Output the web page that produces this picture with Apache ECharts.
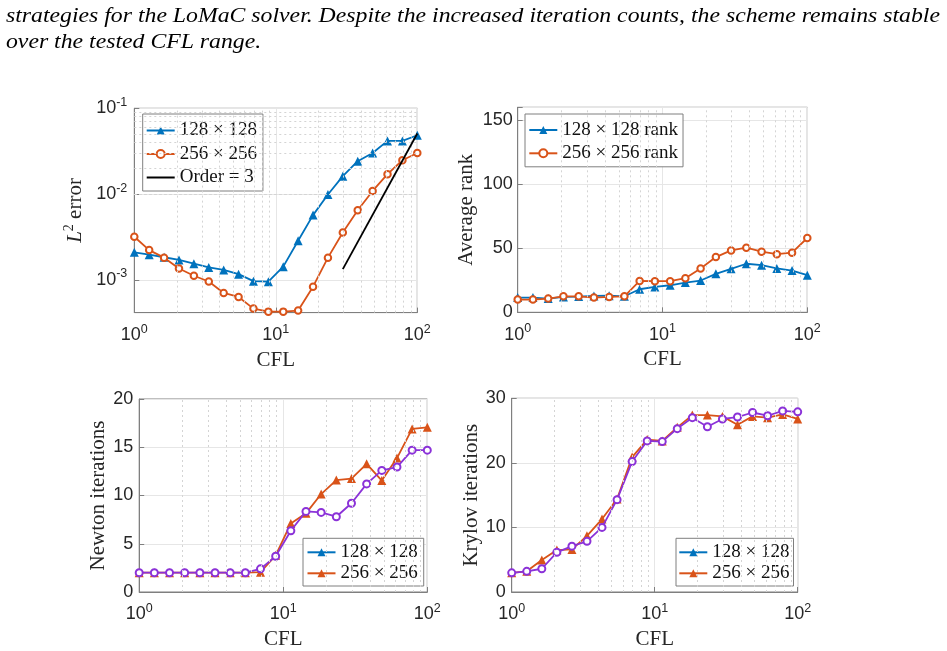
<!DOCTYPE html>
<html><head><meta charset="utf-8">
<script src="https://cdn.jsdelivr.net/npm/echarts@6/dist/echarts.min.js"></script>
<style>html,body{margin:0;padding:0;background:#fff}#c{width:947px;height:651px}</style>
</head><body><div id="c"></div><script>
// ---------------- data ----------------
const cfl = [1, 1.274, 1.624, 2.069, 2.637, 3.360, 4.281, 5.456, 6.952, 8.859, 11.29, 14.38, 18.33, 23.36, 29.76, 37.93, 48.33, 61.58, 78.48, 100];

const err128 = [2.1e-3, 1.97e-3, 1.84e-3, 1.71e-3, 1.55e-3, 1.40e-3, 1.31e-3, 1.17e-3, 9.7e-4, 9.55e-4, 1.43e-3, 2.86e-3, 5.7e-3, 9.9e-3, 1.62e-2, 2.42e-2, 3.02e-2, 4.17e-2, 4.17e-2, 4.85e-2];
const err256 = [3.19e-3, 2.23e-3, 1.82e-3, 1.36e-3, 1.12e-3, 9.6e-4, 7.06e-4, 6.34e-4, 4.64e-4, 4.28e-4, 4.28e-4, 4.4e-4, 8.36e-4, 1.82e-3, 3.58e-3, 6.5e-3, 1.09e-2, 1.71e-2, 2.48e-2, 3.02e-2];
const orderX = [29.76, 100];
const orderY = [1.34e-3, 5.08e-2];

const rank128 = [11.5, 11.5, 10.7, 12.0, 12.3, 12.8, 13.0, 12.5, 18.0, 19.8, 21.1, 23.2, 24.8, 30.0, 33.9, 37.9, 36.8, 34.2, 32.6, 29.0];
const rank256 = [9.9, 9.9, 10.7, 12.5, 12.5, 11.5, 12.0, 12.5, 24.5, 24.3, 24.3, 26.6, 34.2, 43.1, 48.3, 50.4, 47.3, 45.4, 46.5, 58.0];

const newton128 = [2, 2, 2, 2, 2, 2, 2, 2, 2.4, 3.7, 6.35, 8.35, 8.25, 7.8, 9.2, 11.2, 12.6, 12.95, 14.7, 14.7];
const newton256 = [2, 2, 2, 2, 2, 2, 2, 2, 2.05, 3.8, 7.1, 8.15, 10.15, 11.6, 11.75, 13.28, 11.55, 13.88, 16.9, 17.07];

const krylov128 = [2.97, 3.2, 3.6, 6.15, 7.1, 7.85, 10.0, 14.3, 20.2, 23.4, 23.3, 25.3, 27.0, 25.6, 26.8, 27.1, 27.8, 27.3, 28.05, 27.9];
const krylov256 = [2.97, 3.2, 4.97, 6.5, 6.6, 8.7, 11.3, 14.4, 20.9, 23.6, 23.4, 25.5, 27.4, 27.4, 27.2, 25.9, 27.2, 27.0, 27.5, 26.8];

// ticks
const cflTicks = [1, 10, 100];
const cflMinor = [2, 3, 4, 5, 6, 7, 8, 9, 20, 30, 40, 50, 60, 70, 80, 90];
const errTicks = [1e-3, 1e-2, 1e-1];
const errMinor = [5e-4, 6e-4, 7e-4, 8e-4, 9e-4, 2e-3, 3e-3, 4e-3, 5e-3, 6e-3, 7e-3, 8e-3, 9e-3, 2e-2, 3e-2, 4e-2, 5e-2, 6e-2, 7e-2, 8e-2, 9e-2];
const errRange = [4.17e-4, 1e-1];
const rankTicks = [0, 50, 100, 150];
const rankMax = 160;
const newtonTicks = [0, 5, 10, 15, 20];
const krylovTicks = [0, 10, 20, 30];

const legendLabels = {
  e128: '128 × 128', e256: '256 × 256', order: 'Order = 3',
  r128: '128 × 128 rank', r256: '256 × 256 rank',
  n128: '128 × 128', n256: '256 × 256',
  k128: '128 × 128', k256: '256 × 256'
};
const captionLines = [
  'strategies for the LoMaC solver. Despite the increased iteration counts, the scheme remains stable',
  'over the tested CFL range.'
];

// ---------------- style ----------------
const SANS = '"Liberation Sans", Arial, sans-serif';
const SERIF = '"Liberation Serif", "Times New Roman", serif';
const BLUE = '#0072BD', ORANGE = '#D95319', PURPLE = '#8B32D8';
const AX = '#7f7f7f', TXT = '#262626';

const pts = (xs, ys) => xs.map((x, i) => [x, ys[i]]);

function powFmt(ticks) {
  return function (v) {
    for (const t of ticks) {
      if (Math.abs(v / t - 1) < 1e-6) {
        return '{b|10}{s|' + Math.round(Math.log10(t)) + '}';
      }
    }
    return '';
  };
}
function linFmt(ticks) {
  return function (v) {
    for (const t of ticks) if (Math.abs(v - t) < 1e-9) return String(t);
    return '';
  };
}
const powRich = {
  b: { fontFamily: SANS, fontSize: 18, color: TXT },
  s: { fontFamily: SANS, fontSize: 12.5, color: TXT, padding: [0, 0, 12, 0] }
};

const grids = [
  { left: 134.3, top: 108.3, width: 283, height: 204.3 },
  { left: 517.7, top: 107.3, width: 289.6, height: 205 },
  { left: 139.2, top: 399, width: 288.1, height: 193.3 },
  { left: 511.7, top: 398.3, width: 286, height: 195 }
].map(g => Object.assign(g, { show: true, borderColor: AX, borderWidth: 1, backgroundColor: 'transparent' }));

const axisCommon = {
  axisLine: { show: true, onZero: false, lineStyle: { color: AX, width: 1 } },
  axisTick: { show: true, inside: true, length: 5, lineStyle: { color: AX } },
  splitLine: { show: true, lineStyle: { color: '#e6e6e6', width: 1 } },
  nameTextStyle: { fontFamily: SERIF, fontSize: 21, color: TXT }
};

const xAxes = [0, 1, 2, 3].map(i => Object.assign({}, axisCommon, {
  type: 'log', logBase: 10, gridIndex: i, min: cflTicks[0], max: cflTicks[cflTicks.length - 1],
  name: 'CFL', nameLocation: 'middle', nameGap: 37,
  axisLabel: { formatter: powFmt(cflTicks), rich: powRich, margin: 10, showMinLabel: true, showMaxLabel: true, hideOverlap: false }
}));

const yAxes = [
  Object.assign({}, axisCommon, {
    type: 'log', logBase: 10, gridIndex: 0, min: errRange[0], max: errRange[1],
    name: '{i|L}{p|2}{t| error}', nameLocation: 'middle', nameGap: 46,
    nameTextStyle: { rich: {
      i: { fontFamily: SERIF, fontSize: 21, fontStyle: 'italic', color: TXT },
      p: { fontFamily: SERIF, fontSize: 14, color: TXT, padding: [0, 0, 12, 0] },
      t: { fontFamily: SERIF, fontSize: 21, color: TXT }
    } },
    axisLabel: { formatter: powFmt(errTicks), rich: powRich, margin: 7, showMinLabel: true, showMaxLabel: true, hideOverlap: false }
  }),
  Object.assign({}, axisCommon, {
    type: 'value', gridIndex: 1, min: rankTicks[0], max: rankMax, interval: rankTicks[1] - rankTicks[0],
    name: 'Average rank', nameLocation: 'middle', nameGap: 41,
    axisLabel: { formatter: linFmt(rankTicks), fontFamily: SANS, fontSize: 18, color: TXT, margin: 5 }
  }),
  Object.assign({}, axisCommon, {
    type: 'value', gridIndex: 2, min: newtonTicks[0], max: newtonTicks[newtonTicks.length - 1], interval: newtonTicks[1] - newtonTicks[0],
    name: 'Newton iterations', nameLocation: 'middle', nameGap: 28,
    axisLabel: { formatter: linFmt(newtonTicks), fontFamily: SANS, fontSize: 18, color: TXT, margin: 6 }
  }),
  Object.assign({}, axisCommon, {
    type: 'value', gridIndex: 3, min: krylovTicks[0], max: krylovTicks[krylovTicks.length - 1], interval: krylovTicks[1] - krylovTicks[0],
    name: 'Krylov iterations', nameLocation: 'middle', nameGap: 28.5,
    axisLabel: { formatter: linFmt(krylovTicks), fontFamily: SANS, fontSize: 18, color: TXT, margin: 6 }
  })
];

function minorGrid(gi, xs, ys) {
  const d = xs.map(v => ({ xAxis: v }));
  (ys || []).forEach(v => d.push({ yAxis: v }));
  return {
    type: 'line', name: '_grid' + gi, xAxisIndex: gi, yAxisIndex: gi, data: [], silent: true, z: 1,
    markLine: { silent: true, symbol: 'none', label: { show: false }, animation: false,
      lineStyle: { type: [2, 3], color: '#d4d4d4', width: 1 }, data: d }
  };
}
function ser(name, gi, xs, ys, color, symbol, size, z) {
  return {
    type: 'line', name: name, xAxisIndex: gi, yAxisIndex: gi, z: z || 3,
    data: xs ? pts(xs, ys) : [],
    symbol: symbol, symbolSize: size, showSymbol: symbol !== 'none',
    lineStyle: { color: color, width: 1.8 },
    itemStyle: { color: color, borderColor: color, borderWidth: symbol === 'emptyCircle' ? 1.5 : 0 },
    emphasis: { disabled: true }, animation: false
  };
}

const series = [
  minorGrid(0, cflMinor, errMinor),
  minorGrid(1, cflMinor),
  minorGrid(2, cflMinor),
  minorGrid(3, cflMinor),
  ser('e128', 0, cfl, err128, BLUE, 'triangle', 9),
  ser('e256', 0, cfl, err256, ORANGE, 'emptyCircle', 6.5, 4),
  ser('order', 0, orderX, orderY, '#000000', 'none', 0, 5),
  ser('r128', 1, cfl, rank128, BLUE, 'triangle', 9),
  ser('r256', 1, cfl, rank256, ORANGE, 'emptyCircle', 6.5, 4),
  ser('n128', 2, null, null, BLUE, 'triangle', 9),
  ser('n256', 2, cfl, newton256, ORANGE, 'triangle', 9, 3),
  ser('n128p', 2, cfl, newton128, PURPLE, 'emptyCircle', 7, 4),
  ser('k128', 3, null, null, BLUE, 'triangle', 9),
  ser('k256', 3, cfl, krylov256, ORANGE, 'triangle', 9, 3),
  ser('k128p', 3, cfl, krylov128, PURPLE, 'emptyCircle', 7, 4)
];

function legend(names, left, top, padding, gap) {
  return {
    orient: 'vertical', left: left, top: top, padding: padding, itemGap: gap,
    data: names.map(n => n === 'order'
      ? { name: n, itemStyle: { opacity: 0, color: 'rgba(0,0,0,0)', borderWidth: 0 } }
      : n),
    itemWidth: 28, itemHeight: 10, selectedMode: false,
    backgroundColor: '#ffffff', borderColor: AX, borderWidth: 1, borderRadius: 0,
    textStyle: { fontFamily: SERIF, fontSize: 19, lineHeight: 19, color: '#111' },
    formatter: n => legendLabels[n]
  };
}

// caption scale to match reference width
const ctx = document.createElement('canvas').getContext('2d');
const capFont = 'italic 21px "Liberation Serif"';
ctx.font = capFont;
const capScale = 934 / ctx.measureText(captionLines[0]).width;

const option = {
  animation: false,
  backgroundColor: '#ffffff',
  grid: grids,
  xAxis: xAxes,
  yAxis: yAxes,
  legend: [
    legend(['e128', 'e256', 'order'], 142.7, 114, [7, 6, 4, 3], 4.5),
    legend(['r128', 'r256'], 525, 114, [6.5, 5, 4, 3.3], 4.3),
    legend(['n128', 'n256'], 303, 538.3, [4.5, 6, 3.2, 3.5], 2),
    legend(['k128', 'k256'], 676, 538.3, [4.5, 4, 3.2, 2.3], 2)
  ],
  series: series,
  graphic: captionLines.map((t, i) => ({
    type: 'text', x: 6, y: 6 + i * 25.5, scaleX: capScale, silent: true,
    style: { text: t, font: capFont, fill: '#000000', verticalAlign: 'top' }
  }))
};

const chart = echarts.init(document.getElementById('c'), null, { renderer: 'canvas' });
chart.setOption(option);
</script></body></html>
